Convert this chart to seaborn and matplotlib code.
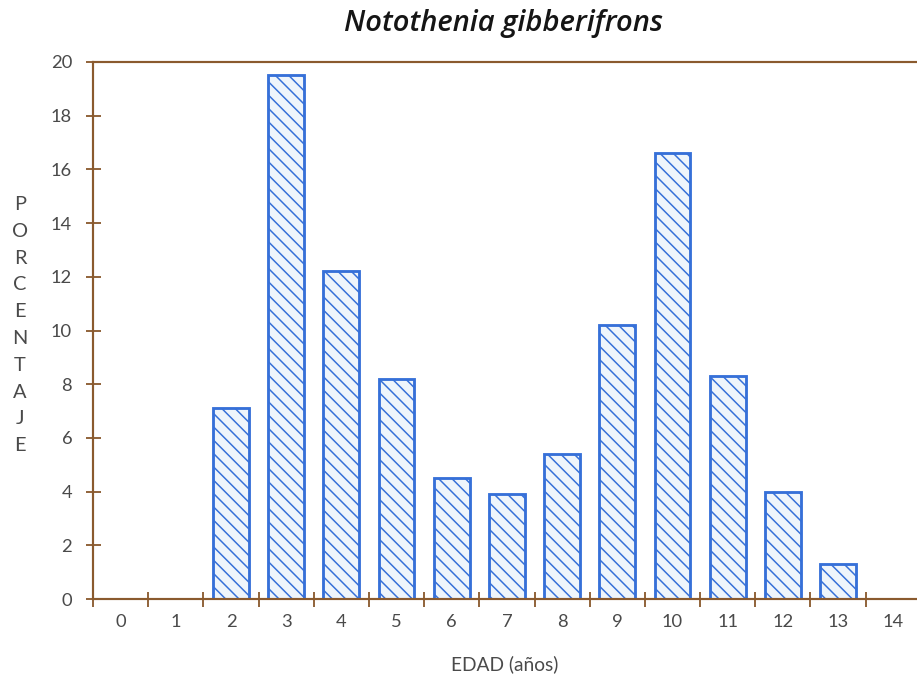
import matplotlib
matplotlib.use("Agg")
import matplotlib.pyplot as plt
import seaborn as sns
import pandas as pd

# ==========================================
# DATA
# ==========================================

ages = [2, 3, 4, 5, 6, 7, 8, 9, 10, 11, 12, 13]
percent = [7.1, 19.5, 12.2, 8.2, 4.5, 3.9, 5.4, 10.2, 16.6, 8.3, 4.0, 1.3]
age_order = list(range(15))
y_ticks = [0, 2, 4, 6, 8, 10, 12, 14, 16, 18, 20]

title = "Notothenia gibberifrons"
x_label = "EDAD (años)"
y_label = "PORCENTAJE"

df = pd.DataFrame({"edad": ages, "pct": percent})

# ==========================================
# STYLE
# ==========================================

sns.set_style("white")
plt.rcParams["font.family"] = ["Lato", "DejaVu Sans"]
plt.rcParams["hatch.linewidth"] = 0.9

brown = "#8a5a2e"
blue = "#3670d8"
navy = "#2a4a9e"
text_gray = "#4a4a4a"

DPI = 120
fig = plt.figure(figsize=(917 / DPI, 674 / DPI), dpi=DPI)
ax = fig.add_axes([93 / 917, 75 / 674, 1 - 93 / 917, (599 - 62) / 674])

sns.barplot(
    data=df,
    x="edad",
    y="pct",
    order=age_order,
    width=0.65,
    color="#edf5fd",
    edgecolor=blue,
    linewidth=1.7,
    hatch="\\\\\\",
    ax=ax
)

# darker hatch lines than the outline, where matplotlib supports it
for bar in ax.patches:
    if hasattr(bar, "set_hatchcolor"):
        bar.set_hatchcolor(navy)

# ==========================================
# AXES
# ==========================================

ax.set_xlim(-0.5, 14.43)
ax.set_ylim(0, 20)

ax.set_yticks(y_ticks)
ax.set_yticklabels([str(v) for v in y_ticks])

# labels sit between the tick marks
ax.set_xticks(age_order)
ax.set_xticklabels([str(a) for a in age_order])
ax.set_xticks([a - 0.5 for a in range(15)], minor=True)

ax.tick_params(axis="x", which="major", length=0, pad=9,
               labelsize=11, labelcolor=text_gray)
ax.tick_params(axis="x", which="minor", direction="inout", length=9,
               width=1.1, color=brown, bottom=True)
ax.tick_params(axis="y", direction="inout", length=9, width=1.1,
               color=brown, left=True, pad=8, labelsize=11,
               labelcolor=text_gray)

for side in ["left", "bottom", "top"]:
    ax.spines[side].set_color(brown)
    ax.spines[side].set_linewidth(1.3)
ax.spines["right"].set_visible(False)

ax.set_xlabel(x_label, fontsize=11.5, color=text_gray, labelpad=15)
ax.set_ylabel("")

fig.text(20 / 917, 1 - 325 / 674, "\n".join(y_label), ha="center",
         va="center", fontsize=12, color=text_gray, linespacing=1.7)

fig.text(503 / 917, 1 - 24 / 674, title, ha="center", va="center",
         fontsize=17.5, style="italic", fontweight="semibold",
         family=["Open Sans", "DejaVu Sans"], color="#151515")

plt.savefig("out.png", dpi=DPI)
